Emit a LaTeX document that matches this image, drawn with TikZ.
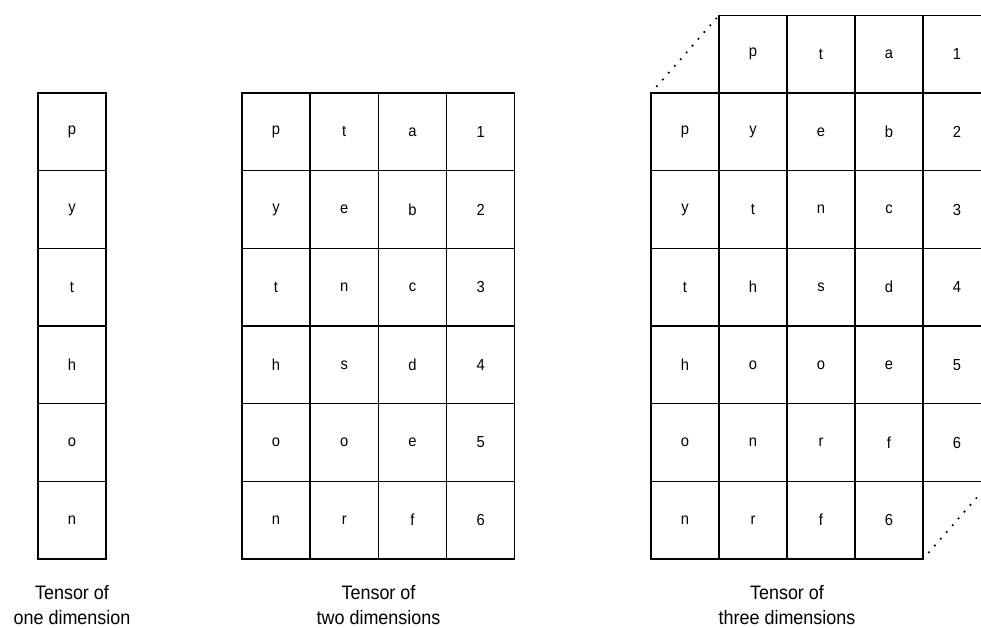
\documentclass[tikz,border=0pt]{standalone}
\usepackage{fontspec}
\setmainfont{Liberation Sans}[FakeStretch=0.92]
\def\nocell{-}
\begin{document}
\begin{tikzpicture}[x=1pt,y=-1pt,
  cell/.style={draw, line width=1.3pt, minimum width=68pt, minimum height=77.67pt,
    inner sep=0pt, outer sep=0pt, anchor=north west, font=\fontsize{16}{18}\selectfont},
  label/.style={align=center, inner sep=0pt, font=\fontsize{19.5}{24.5}\selectfont},
  dots/.style={line width=2.4pt, line cap=round, dash pattern=on 0pt off 9pt}]
\useasboundingbox (0,0) rectangle (981,627);
\clip (0,0) rectangle (981,627);
% one dimension
\foreach \t [count=\i from 0] in {p,y,t,h,o,n}
  \node[cell] (a\i) at (38,{93+77.67*\i}) {\t};
% two dimensions
\foreach \row [count=\r from 0] in {{p,t,a,1},{y,e,b,2},{t,n,c,3},{h,s,d,4},{o,o,e,5},{n,r,f,6}}
  \foreach \t [count=\c from 0] in \row
    \node[cell] (b\r\c) at ({242+68.25*\c},{93+77.67*\r}) {\t};
% three dimensions
\foreach \row [count=\r from 0] in {{-,p,t,a,1},{p,y,e,b,2},{y,t,n,c,3},{t,h,s,d,4},{h,o,o,e,5},{o,n,r,f,6},{n,r,f,6,-}}
  \foreach \t [count=\c from 0] in \row {
    \ifx\t\nocell\else
      \node[cell] (c\r\c) at ({651+68*\c},{15.33+77.67*\r}) {\t};
    \fi
  }
\draw[dots] (c10.north west) -- (c01.north west);
\draw[dots] (c63.south east) -- (c54.south east);
% labels
\node[label] (l1) at (72,605) {Tensor of\\one dimension};
\node[label] (l2) at (378.5,605) {Tensor of\\two dimensions};
\node[label] (l3) at (787,605) {Tensor of\\three dimensions};
\end{tikzpicture}
\end{document}
